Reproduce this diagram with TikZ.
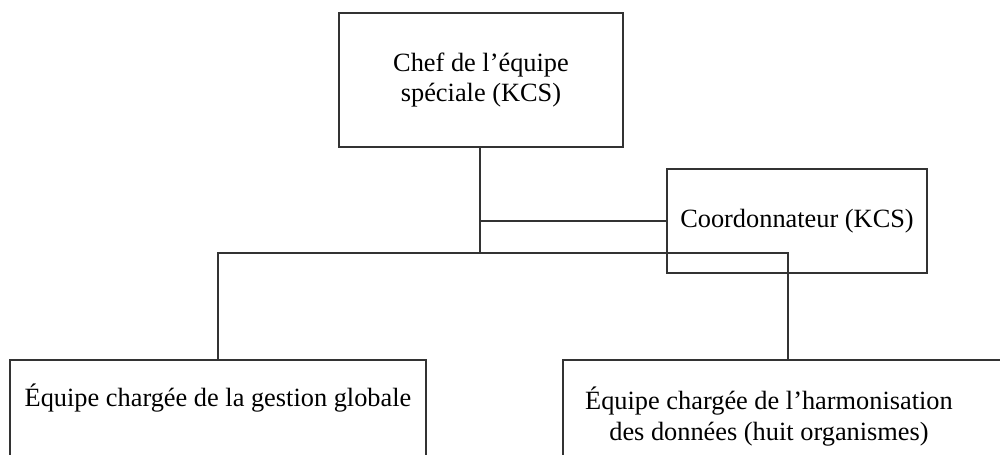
\documentclass[tikz,border=0pt]{standalone}
\usepackage{fontspec}
\setmainfont{Liberation Serif}
\begin{document}
\begin{tikzpicture}[x=0.02cm, y=-0.02cm,
  box/.style={draw=black!80, line width=1.4pt, inner sep=0pt, align=center,
              font=\fontsize{15pt}{17.5pt}\selectfont},
  lbl/.style={inner sep=0pt, align=center, font=\fontsize{15pt}{17.5pt}\selectfont},
  link/.style={draw=black!80, line width=1.4pt}]
\useasboundingbox (0,0) rectangle (1000,455);
\clip (0,0) rectangle (1000,455);

% head of the task force
\node[box, minimum width=5.68cm, minimum height=2.68cm] (chef) at (481,80)
  {Chef de l’équipe\\spéciale (KCS)};

% coordinator, attached to the side of the main line
\node[box, minimum width=5.2cm, minimum height=2.08cm] (coord) at (797,221)
  {Coordonnateur (KCS)};

% the two teams (boxes run past the lower edge)
\node[box, minimum width=8.32cm, minimum height=3.2cm] (lbox) at (218,440) {};
\node[box, minimum width=9.94cm, minimum height=3.2cm] (rbox) at (811.5,440) {};
\node[lbl, anchor=base] (ltxt) at (218,407) {Équipe chargée de la gestion globale};
\node[lbl, anchor=base] (rtxt) at (769,440)
  {Équipe chargée de l’harmonisation\\des données (huit organismes)};

% connectors
\coordinate (jn) at (480,253);
\coordinate (br) at (788,253);
\path[link] (chef.south -| jn) -- (jn);
\path[link] (jn |- coord.west) -- (coord.west);
\path[link] (lbox.north) |- (br) -- (br |- rbox.north);
\end{tikzpicture}
\end{document}
